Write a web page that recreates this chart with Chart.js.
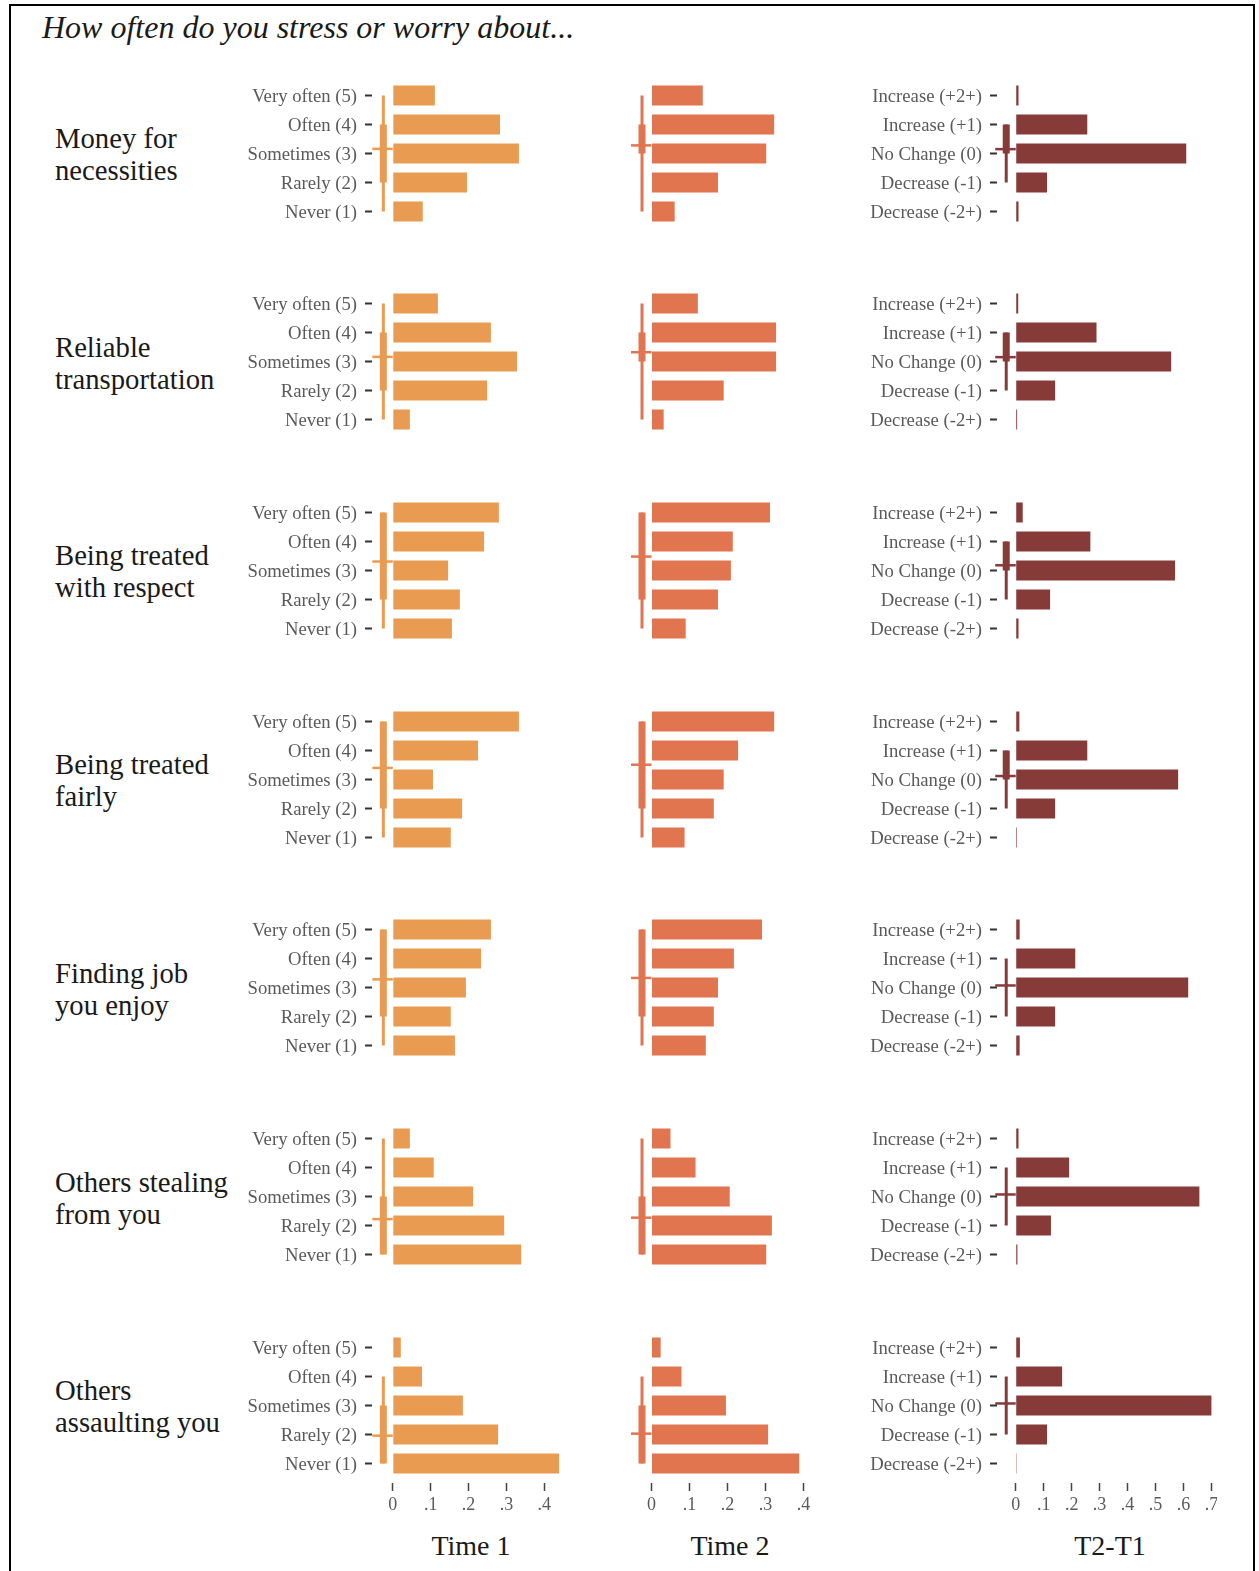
<!DOCTYPE html>
<html>
<head>
<meta charset="utf-8">
<title>How often do you stress or worry about...</title>
<script src="https://cdn.jsdelivr.net/npm/chart.js@4.4.1/dist/chart.umd.min.js"></script>
<style>
  html, body { margin: 0; padding: 0; background: #fff; }
  body { width: 1259px; height: 1571px; position: relative; overflow: hidden;
         font-family: 'Liberation Serif', 'Times New Roman', serif; color: #1a1a1a; }
  .frame { position: absolute; left: 9px; top: 4px; width: 1246px; height: 1620px;
           border: 2px solid #000; box-sizing: border-box; }
  .title { position: absolute; left: 42px; top: 9px; font-size: 32px; line-height: 36px;
           font-style: italic; white-space: nowrap; }
  .item { position: absolute; left: 55px; font-size: 28.7px; line-height: 32px; white-space: nowrap; }
  .coltitle { position: absolute; top: 1530px; font-size: 28px; line-height: 32px;
              width: 200px; margin-left: -100px; text-align: center; }
  canvas { position: absolute; }
</style>
</head>
<body>
<div class="frame"></div>
<div class="title">How often do you stress or worry about...</div>
<div id="panels"></div>

<script>
// --- data -----------------------------------------------------------------
const items = [
  ['Money for', 'necessities'],
  ['Reliable', 'transportation'],
  ['Being treated', 'with respect'],
  ['Being treated', 'fairly'],
  ['Finding job', 'you enjoy'],
  ['Others stealing', 'from you'],
  ['Others', 'assaulting you']
];

const freqLabels = ['Very often (5)', 'Often (4)', 'Sometimes (3)', 'Rarely (2)', 'Never (1)'];
const changeLabels = ['Increase (+2+)', 'Increase (+1)', 'No Change (0)', 'Decrease (-1)', 'Decrease (-2+)'];

// share of respondents per answer, ordered as the labels above
const time1 = [
  [0.111, 0.283, 0.333, 0.196, 0.079],
  [0.119, 0.259, 0.328, 0.249, 0.045],
  [0.280, 0.241, 0.146, 0.177, 0.156],
  [0.333, 0.225, 0.106, 0.183, 0.153],
  [0.259, 0.233, 0.193, 0.153, 0.164],
  [0.045, 0.108, 0.212, 0.294, 0.339],
  [0.021, 0.077, 0.185, 0.278, 0.439]
];
const time2 = [
  [0.135, 0.323, 0.302, 0.175, 0.061],
  [0.122, 0.328, 0.328, 0.190, 0.032],
  [0.312, 0.214, 0.209, 0.175, 0.090],
  [0.323, 0.228, 0.190, 0.164, 0.087],
  [0.291, 0.217, 0.175, 0.164, 0.143],
  [0.050, 0.116, 0.206, 0.317, 0.302],
  [0.024, 0.079, 0.196, 0.307, 0.389]
];
const change = [
  [0.010, 0.256, 0.610, 0.112, 0.010],
  [0.009, 0.289, 0.556, 0.141, 0.005],
  [0.025, 0.267, 0.570, 0.123, 0.010],
  [0.013, 0.256, 0.581, 0.141, 0.004],
  [0.014, 0.213, 0.617, 0.141, 0.014],
  [0.010, 0.191, 0.657, 0.126, 0.006],
  [0.015, 0.166, 0.700, 0.112, 0.003]
];

// box strip per panel, in answer scores: [whisker low, box low, box high, whisker high, mean]
const time1Box = [
  [1, 2, 4, 5, 3.16],
  [1, 2, 4, 5, 3.16],
  [1, 2, 5, 5, 3.31],
  [1, 2, 5, 5, 3.40],
  [1, 2, 5, 5, 3.28],
  [1, 1, 3, 5, 2.22],
  [1, 1, 3, 4, 1.96]
];
const time2Box = [
  [1, 3, 4, 5, 3.28],
  [1, 3, 4, 5, 3.32],
  [1, 2, 5, 5, 3.48],
  [1, 2, 5, 5, 3.51],
  [1, 2, 5, 5, 3.33],
  [1, 1, 3, 5, 2.27],
  [1, 1, 3, 4, 2.03]
];
const changeBox = [
  [-1, 0, 1, 1, 0.15],
  [-1, 0, 1, 1, 0.15],
  [-1, 0, 1, 1, 0.18],
  [-1, 0, 1, 1, 0.12],
  [-1, 0, 0, 1, 0.07],
  [-1, 0, 0, 1, 0.07],
  [-1, 0, 0, 1, 0.07]
];

const shareTicks = [0, 0.1, 0.2, 0.3, 0.4];
const shareTickLabels = ['0', '.1', '.2', '.3', '.4'];
const changeTicks = [0, 0.1, 0.2, 0.3, 0.4, 0.5, 0.6, 0.7];
const changeTickLabels = ['0', '.1', '.2', '.3', '.4', '.5', '.6', '.7'];

// --- layout ---------------------------------------------------------------
const FONT = "'Liberation Serif', 'Times New Roman', serif";
const ROW_STEP = 208.7;
const AREA_TOP = 80.5;      // plot area top of first row
const AREA_H = 145;         // 5 categories x 29px
const PAD_TOP = 10;
const XAXIS_H = 40;

const columns = [
  { title: 'Time 1', titleX: 471, values: time1, box: time1Box, labels: freqLabels, topScore: 5,
    color: '#E89B51', left: 240, axisW: 132, width: 327, min: -0.055, max: 0.46,
    ticks: shareTicks, tickLabels: shareTickLabels, showLabels: true },
  { title: 'Time 2', titleX: 730, values: time2, box: time2Box, labels: freqLabels, topScore: 5,
    color: '#E07550', left: 621, axisW: 10, width: 190, min: -0.054, max: 0.42,
    ticks: shareTicks, tickLabels: shareTickLabels, showLabels: false },
  { title: 'T2-T1', titleX: 1110, values: change, box: changeBox, labels: changeLabels, topScore: 2,
    color: '#873B39', left: 860, axisW: 137, width: 357, min: -0.067, max: 0.72,
    ticks: changeTicks, tickLabels: changeTickLabels, showLabels: true }
];

// whisker, IQR box and mean tick drawn just left of the zero line
const boxStrip = {
  id: 'boxStrip',
  afterDatasetsDraw(chart, args, opts) {
    const { ctx, scales: { x, y } } = chart;
    const py = s => y.getPixelForValue(opts.topScore - s);
    const x0 = x.getPixelForValue(0);
    const cx = x0 - 9.5;
    const [wLo, bLo, bHi, wHi, mean] = opts.stats;
    ctx.save();
    ctx.strokeStyle = opts.color;
    ctx.fillStyle = opts.color;
    ctx.lineWidth = 3;
    ctx.beginPath();
    ctx.moveTo(cx, py(wHi));
    ctx.lineTo(cx, py(wLo));
    ctx.stroke();
    if (bHi > bLo) {
      ctx.fillRect(cx - 3.5, py(bHi), 7, py(bLo) - py(bHi));
    }
    ctx.lineWidth = 2.5;
    ctx.beginPath();
    ctx.moveTo(cx - 11, py(mean));
    ctx.lineTo(x0, py(mean));
    ctx.stroke();
    ctx.restore();
  }
};

// keep every plot area the same size: no extra room for edge labels
function noEdgePadding(s) {
  s.paddingTop = 0;
  s.paddingBottom = 0;
  s.paddingLeft = 0;
  s.paddingRight = 0;
}

const host = document.getElementById('panels');

function makePanel(col, row) {
  const bottom = row === items.length - 1;
  const canvas = document.createElement('canvas');
  const height = PAD_TOP + AREA_H + XAXIS_H;
  canvas.width = col.width;
  canvas.height = height;
  canvas.style.left = col.left + 'px';
  canvas.style.top = (AREA_TOP + row * ROW_STEP - PAD_TOP) + 'px';
  canvas.style.width = col.width + 'px';
  canvas.style.height = height + 'px';
  host.appendChild(canvas);

  new Chart(canvas, {
    type: 'bar',
    data: {
      labels: col.labels,
      datasets: [{
        data: col.values[row],
        backgroundColor: col.color,
        borderWidth: 0,
        barPercentage: 0.69,
        categoryPercentage: 1
      }]
    },
    options: {
      indexAxis: 'y',
      responsive: false,
      animation: false,
      layout: { padding: { top: PAD_TOP, left: 0, right: 0, bottom: 0 } },
      plugins: {
        legend: { display: false },
        tooltip: { enabled: false },
        boxStrip: { stats: col.box[row], color: col.color, topScore: col.topScore }
      },
      scales: {
        x: {
          type: 'linear',
          min: col.min,
          max: col.max,
          afterBuildTicks: s => { s.ticks = col.ticks.map(v => ({ value: v })); },
          afterFit: s => { s.height = XAXIS_H; noEdgePadding(s); },
          border: { display: false },
          grid: {
            drawOnChartArea: false,
            tickLength: 13,
            tickWidth: 1.5,
            tickBorderDash: [0, 5, 8, 30],
            tickColor: bottom ? '#444' : 'transparent'
          },
          ticks: {
            autoSkip: false,
            maxRotation: 0,
            padding: 3,
            color: bottom ? '#5a5a5a' : 'transparent',
            font: { family: FONT, size: 18 },
            callback: (v, i) => col.tickLabels[i]
          }
        },
        y: {
          afterFit: s => { s.width = col.axisW; noEdgePadding(s); },
          border: { display: false },
          grid: {
            drawOnChartArea: false,
            offset: false,
            tickLength: 7,
            tickWidth: 2,
            tickColor: col.showLabels ? '#333' : 'transparent'
          },
          ticks: {
            display: col.showLabels,
            autoSkip: false,
            padding: 8,
            labelOffset: 1.5,
            color: '#5a5a5a',
            font: { family: FONT, size: 18.7 }
          }
        }
      }
    },
    plugins: [boxStrip]
  });
}

items.forEach((lines, row) => {
  const div = document.createElement('div');
  div.className = 'item';
  div.style.top = (122 + row * ROW_STEP) + 'px';
  div.innerHTML = lines.join('<br>');
  document.body.appendChild(div);
  columns.forEach(col => makePanel(col, row));
});

columns.forEach(col => {
  const div = document.createElement('div');
  div.className = 'coltitle';
  div.style.left = col.titleX + 'px';
  div.textContent = col.title;
  document.body.appendChild(div);
});
</script>
</body>
</html>
